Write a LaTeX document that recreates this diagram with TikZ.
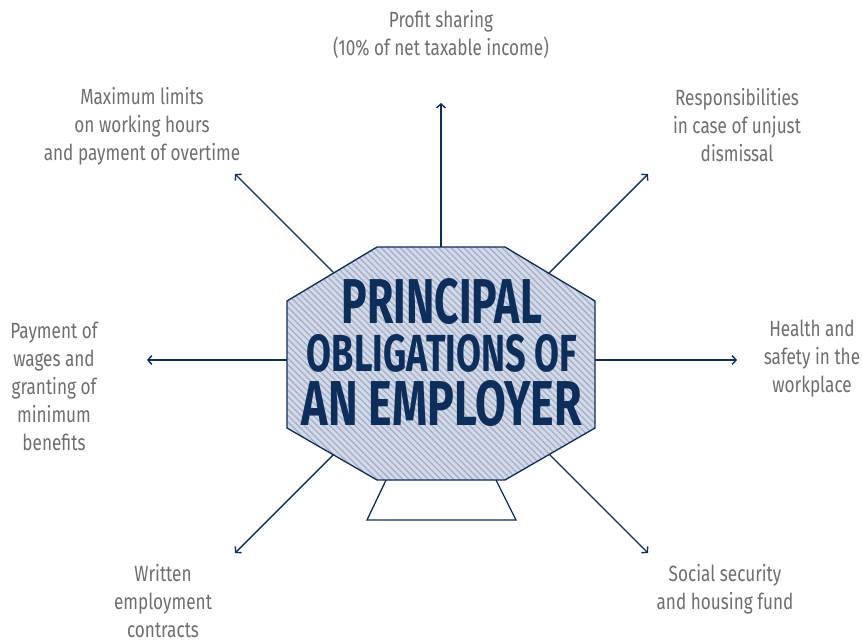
\documentclass[tikz,border=0pt]{standalone}
\usepackage{fontspec}
\usepackage{graphicx}
\setmainfont{Fira Sans}[FakeStretch=0.78]
\usetikzlibrary{positioning,arrows.meta,patterns.meta}

\definecolor{navy}{HTML}{0D2E5B}
\definecolor{textgrey}{HTML}{6E6E6E}
\definecolor{panel}{HTML}{D3D9E6}
\definecolor{stripe}{HTML}{A3AFCB}

\tikzset{
  duty/.style={align=center, text=textgrey, inner sep=0pt,
    font=\fontsize{22}{28}\selectfont},
  spoke/.style={navy, line width=1.4pt,
    -{Straight Barb[length=4pt,width=9pt,line width=1.4pt]}},
  headline/.style={text=navy, inner sep=0pt, align=center, font=\bfseries},
}

\begin{document}
\begin{tikzpicture}[x=1pt,y=-1pt]
  \useasboundingbox (0,0) rectangle (862,643);

  % Spokes: start under the octagon, end at the tips
  \coordinate (oN)  at (441,252); \coordinate (tN)  at (441,103);
  \coordinate (oNE) at (544,278); \coordinate (tNE) at (648,174);
  \coordinate (oE)  at (590,360); \coordinate (tE)  at (737,360);
  \coordinate (oSE) at (544,449); \coordinate (tSE) at (648,553);
  \coordinate (oSW) at (339,449); \coordinate (tSW) at (235,553);
  \coordinate (oW)  at (292,360); \coordinate (tW)  at (147,360);
  \coordinate (oNW) at (339,278); \coordinate (tNW) at (235,174);

  \foreach \d in {N,NE,E,SE,SW,W,NW}
    \draw[spoke] (o\d) -- (t\d);

  % Stand below the octagon
  \draw[navy, line width=1.3pt, fill=white]
    (387,478) -- (367,520) -- (516,520) -- (495,478);

  % Octagon
  \fill[panel] (377,247) -- (505,247) -- (595,301) -- (595,428)
    -- (505,480) -- (377,480) -- (287,428) -- (287,301) -- cycle;
  \fill[pattern={Lines[angle=-45,distance=4.5pt,line width=1.3pt]},
    pattern color=stripe]
    (377,247) -- (505,247) -- (595,301) -- (595,428)
    -- (505,480) -- (377,480) -- (287,428) -- (287,301) -- cycle;
  \draw[navy, line width=1.3pt, line join=round]
    (377,247) -- (505,247) -- (595,301) -- (595,428)
    -- (505,480) -- (377,480) -- (287,428) -- (287,301) -- cycle;

  % Title
  \node[headline] (title) at (442,352.5)
    {\resizebox{200pt}{45pt}{PRINCIPAL}\\[9pt]
     \resizebox{270pt}{37pt}{OBLIGATIONS OF}\\[7pt]
     \resizebox{280pt}{45pt}{AN EMPLOYER}};

  % Labels
  \node[duty] (profit) at (441,35) {Profit sharing\\(10\% of net taxable income)};
  \node[duty] (resp) at (737,125) {Responsibilities\\in case of unjust\\dismissal};
  \node[duty] (health) at (812,359) {Health and\\safety in the\\workplace};
  \node[duty] (social) at (725,589) {Social security\\and housing fund};
  \node[duty] (written) at (163,601) {Written\\employment\\contracts};
  \node[duty] (wages) at (54,386) {Payment of\\wages and\\granting of\\minimum\\benefits};
  \node[duty] (hours) at (142,126) {Maximum limits\\on working hours\\and payment of overtime};
\end{tikzpicture}
\end{document}
